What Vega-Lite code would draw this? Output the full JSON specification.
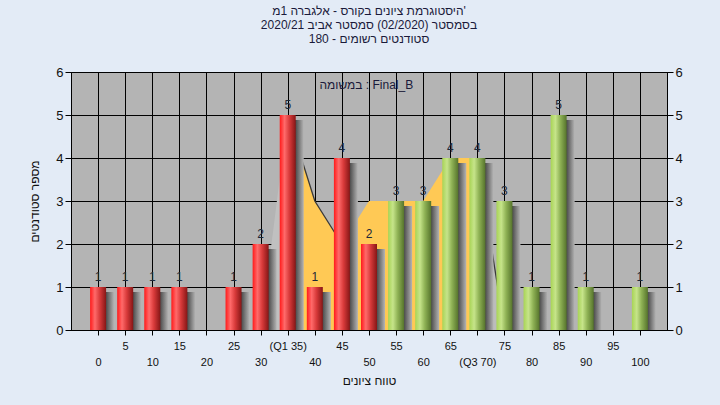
{
  "$schema": "https://vega.github.io/schema/vega-lite/v6.json",
  "width": 596,
  "height": 258,
  "autosize": {"type": "none"},
  "padding": {"left": 71, "top": 72, "right": 53, "bottom": 75},
  "background": "#e3ebf6",
  "title": {
    "text": ["היסטוגרמת ציונים בקורס - אלגברה 1מ'", "בסמסטר  (02/2020)  סמסטר אביב 2020/21", "סטודנטים רשומים - 180"],
    "anchor": "middle",
    "font": "Liberation Sans",
    "fontSize": 12,
    "fontWeight": "normal",
    "color": "#1a1a3a",
    "lineHeight": 14,
    "offset": 20
  },
  "datasets": {
    "bars": [
      {"score": 0, "count": 1}, {"score": 5, "count": 1}, {"score": 10, "count": 1}, {"score": 15, "count": 1},
      {"score": 25, "count": 1}, {"score": 30, "count": 2}, {"score": 35, "count": 5}, {"score": 40, "count": 1},
      {"score": 45, "count": 4}, {"score": 50, "count": 2}, {"score": 55, "count": 3}, {"score": 60, "count": 3},
      {"score": 65, "count": 4}, {"score": 70, "count": 4}, {"score": 75, "count": 3}, {"score": 80, "count": 1},
      {"score": 85, "count": 5}, {"score": 90, "count": 1}, {"score": 100, "count": 1}
    ],
    "curve": [
      {"score": 30, "v": 0, "part": "L"}, {"score": 35, "v": 5, "part": "L"},
      {"score": 35, "v": 5, "part": "Q"}, {"score": 40, "v": 3, "part": "Q"}, {"score": 45, "v": 2, "part": "Q"},
      {"score": 50, "v": 3, "part": "Q"}, {"score": 55, "v": 3, "part": "Q"}, {"score": 60, "v": 3, "part": "Q"},
      {"score": 65, "v": 4, "part": "Q"}, {"score": 70, "v": 4, "part": "Q"},
      {"score": 70, "v": 4, "part": "R"}, {"score": 75, "v": 0, "part": "R"}
    ],
    "edge": [
      {"score": 35, "v": 5, "seg": "a"}, {"score": 40, "v": 3, "seg": "a"}, {"score": 45, "v": 2, "seg": "a"},
      {"score": 70, "v": 4, "seg": "b"}, {"score": 75, "v": 0, "seg": "b"}
    ],
    "note": [{"score": 49.5, "v": 5.7, "label": "במשומה : Final_B"}]
  },
  "config": {
    "view": {"fill": "#b4b4b4", "stroke": "#000000", "strokeWidth": 1},
    "scale": {"continuousPadding": 0},
    "axis": {
      "gridColor": "#000000", "gridOpacity": 1, "gridWidth": 1,
      "domainColor": "#000000", "tickColor": "#000000",
      "labelColor": "#111111", "labelFont": "Liberation Sans",
      "titleFont": "Liberation Sans", "titleFontWeight": "normal", "titleColor": "#111111", "titleFontSize": 12
    },
    "axisX": {"labelOverlap": false, "labelFlush": false, "labelBound": false}
  },
  "resolve": {"axis": {"x": "independent", "y": "independent"}},
  "layer": [
    {
      "data": {"name": "curve"},
      "mark": {"type": "area", "opacity": 1, "clip": true},
      "encoding": {
        "x": {"field": "score", "type": "quantitative",
          "scale": {"domain": [-5, 105], "nice": false, "zero": false, "padding": 0},
          "axis": {
            "orient": "bottom",
            "values": [5,15,25,35,45,55,65,75,85,95],
            "grid": true, "tickSize": 5, "labelFontSize": 11, "labelPadding": 5,
            "labelExpr": "datum.value == 35 ? '(Q1 35)' : datum.label",
            "title": null
          }},
        "y": {"field": "v", "type": "quantitative", "stack": null,
          "scale": {"domain": [0, 6], "nice": false, "padding": 0},
          "axis": {"orient": "left", "values": [0,1,2,3,4,5,6], "grid": true, "tickSize": 6, "labelFontSize": 13, "labelPadding": 2,
            "title": "מספר סטודנטים", "titlePadding": 14}},
        "color": {"field": "part", "type": "nominal",
          "scale": {"domain": ["L", "Q", "R"], "range": ["#c0c0c0", "#ffc955", "#bcbcbc"]}, "legend": null}
      }
    },
    {
      "data": {"name": "edge"},
      "mark": {"type": "line", "color": "#3a3a3a", "strokeWidth": 1.3},
      "encoding": {
        "x": {"field": "score", "type": "quantitative", "axis": null},
        "y": {"field": "v", "type": "quantitative", "axis": null},
        "detail": {"field": "seg", "type": "nominal"}
      }
    },
    {
      "data": {"name": "bars"},
      "mark": {"type": "bar", "width": 10, "xOffset": 11, "yOffset": 5, "clip": true,
        "color": {"gradient": "linear", "x1": 0, "x2": 1, "y1": 0, "y2": 0,
          "stops": [{"offset": 0, "color": "#333333"}, {"offset": 1, "color": "#b4b4b4"}]}},
      "encoding": {
        "x": {"field": "score", "type": "quantitative", "axis": null},
        "y": {"field": "count", "type": "quantitative", "axis": null}
      }
    },
    {
      "data": {"name": "bars"},
      "transform": [{"filter": "datum.score < 55"}],
      "mark": {"type": "bar", "width": 16,
        "color": {"gradient": "linear", "x1": 0, "x2": 1, "y1": 0, "y2": 0,
          "stops": [{"offset": 0, "color": "#ff1a1a"}, {"offset": 0.3, "color": "#ff6a6a"}, {"offset": 0.6, "color": "#d83a3a"}, {"offset": 1, "color": "#861616"}]}},
      "encoding": {
        "x": {"field": "score", "type": "quantitative", "axis": null},
        "y": {"field": "count", "type": "quantitative", "axis": null}
      }
    },
    {
      "data": {"name": "bars"},
      "transform": [{"filter": "datum.score >= 55"}],
      "mark": {"type": "bar", "width": 16,
        "color": {"gradient": "linear", "x1": 0, "x2": 1, "y1": 0, "y2": 0,
          "stops": [{"offset": 0, "color": "#a8d455"}, {"offset": 0.3, "color": "#c6e48a"}, {"offset": 0.6, "color": "#8fb255"}, {"offset": 1, "color": "#56742c"}]}},
      "encoding": {
        "x": {"field": "score", "type": "quantitative", "axis": null},
        "y": {"field": "count", "type": "quantitative", "axis": null}
      }
    },
    {
      "data": {"name": "bars"},
      "mark": {"type": "text", "baseline": "alphabetic", "dy": -6, "fontSize": 12, "font": "Liberation Sans", "color": "#1c2838"},
      "encoding": {
        "x": {"field": "score", "type": "quantitative",
          "axis": {
            "orient": "bottom",
            "values": [0,10,20,30,40,50,60,70,80,90,100],
            "grid": true, "tickSize": 5, "labelFontSize": 11, "labelPadding": 21,
            "labelExpr": "datum.value == 70 ? '(Q3 70)' : datum.label",
            "title": "טווח ציונים", "titlePadding": 8
          }},
        "y": {"field": "count", "type": "quantitative",
          "axis": {"orient": "right", "values": [0,1,2,3,4,5,6], "grid": false, "tickSize": 6, "labelFontSize": 13, "labelPadding": 2, "title": null}},
        "text": {"field": "count", "type": "quantitative"}
      }
    },
    {
      "data": {"name": "note"},
      "mark": {"type": "text", "fontSize": 12, "font": "Liberation Sans", "color": "#1a1a3a", "baseline": "middle"},
      "encoding": {
        "x": {"field": "score", "type": "quantitative", "axis": null},
        "y": {"field": "v", "type": "quantitative", "axis": null},
        "text": {"field": "label", "type": "nominal"}
      }
    }
  ]
}
